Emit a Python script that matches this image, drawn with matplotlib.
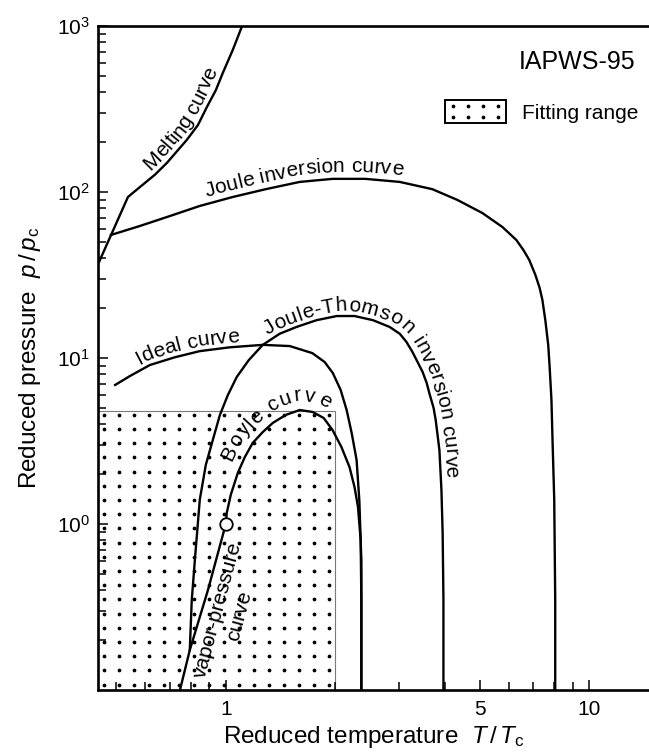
import numpy as np
import matplotlib; matplotlib.use("Agg")
import matplotlib.pyplot as plt
from matplotlib.patches import Rectangle, Patch
from matplotlib.lines import Line2D
from matplotlib.legend_handler import HandlerBase
from matplotlib.font_manager import FontProperties
from matplotlib.ticker import FixedLocator, LogLocator, NullFormatter

plt.rcParams['font.family'] = ['Liberation Sans', 'DejaVu Sans']
plt.rcParams['mathtext.fontset'] = 'custom'
plt.rcParams['mathtext.rm'] = 'Liberation Sans'
plt.rcParams['mathtext.it'] = 'Liberation Sans:italic'

# reduced temperature T/Tc, reduced pressure p/pc
MELT_T = [0.448, 0.538, 0.580, 0.638, 0.689, 0.781, 0.838, 0.887, 0.939, 0.981, 1.045, 1.106, 1.11]
MELT_P = [37.9, 93.3, 107, 127, 150, 206, 253, 325, 411, 521, 717, 986, 1000]

JI_T = [0.483, 0.580, 0.689, 0.848, 1.045, 1.288, 1.597, 1.967, 2.42, 3.01, 3.70, 4.34, 5.08, 5.77,
        6.30, 6.59, 6.84, 7.11, 7.30, 7.43, 7.57, 7.71, 7.78, 7.87, 7.93, 8.01, 8.06, 8.06]
JI_P = [55.1, 62.4, 70.7, 82.4, 93.3, 104, 115, 120, 120, 115, 104, 89.5, 74.7, 61.5,
        51.4, 44.7, 38.9, 31.6, 26.5, 22.4, 16.9, 12.0, 8.83, 5.58, 3.0, 1.40, 0.348, 0.1]

IDEAL_T = [0.496, 0.545, 0.618, 0.724, 0.848, 1.026, 1.264, 1.50, 1.73, 1.87, 1.97, 2.07, 2.15,
           2.22, 2.29, 2.33, 2.36, 2.36]
IDEAL_P = [6.88, 7.79, 9.07, 10.1, 11.0, 11.6, 12.0, 11.8, 10.7, 9.46, 8.12, 6.42, 4.86,
           3.53, 2.43, 1.39, 0.607, 0.1]

JT_T = [0.796, 0.806, 0.822, 0.848, 0.881, 0.921, 0.963, 1.013, 1.072, 1.157, 1.264, 1.407, 1.567,
        1.778, 2.02, 2.26, 2.54, 2.82, 3.01, 3.14, 3.26, 3.37, 3.48, 3.57, 3.63, 3.73, 3.78, 3.87,
        3.92, 3.95, 3.97, 3.97]
JT_P = [0.174, 0.348, 0.607, 1.40, 2.27, 3.21, 4.53, 5.98, 7.69, 9.72, 12.0, 14.0, 15.4,
        16.9, 17.9, 17.9, 16.9, 15.4, 14.0, 12.5, 10.9, 9.46, 8.23, 7.07, 6.15, 5.0, 4.23, 2.79,
        1.60, 0.883, 0.348, 0.1]

BOYLE_T = [1.0, 1.006, 1.032, 1.079, 1.128, 1.186, 1.264, 1.346, 1.462, 1.597, 1.734, 1.859,
           1.967, 2.08, 2.19, 2.26, 2.31, 2.35, 2.36, 2.36]
BOYLE_P = [1.0, 1.165, 1.50, 2.03, 2.53, 3.08, 3.58, 4.06, 4.54, 4.86, 4.73, 4.35,
           3.68, 2.91, 2.20, 1.67, 1.27, 0.801, 0.348, 0.1]

VAP_T = [0.748, 0.796, 0.893, 1.0]
VAP_P = [0.1, 0.174, 0.40, 1.0]
CRIT = (1.0, 1.0)

FIT_T = [0.445, 2.0]
FIT_P = [0.1, 4.8]

XMAJ = [1, 5, 10]
YMAJ = [1, 10, 100, 1000]

FS = 15


class DotBox(HandlerBase):
    def create_artists(self, legend, orig, xd, yd, w, h, fs, trans):
        box = Rectangle((-xd, -yd), w, h, fc='white', ec='k', lw=1.4, transform=trans)
        gx, gy = np.meshgrid(-xd + w * (np.arange(4) + 0.5) / 4, -yd + h * (np.arange(2) + 0.5) / 2)
        dots = Line2D(gx.ravel(), gy.ravel(), ls='none', marker='o', ms=1.7, color='k', transform=trans)
        return [box, dots]


def label_along(ax, s, xs, ys, s0, off, fs=FS, win=10):
    """place text char by char along a curve (display coords)"""
    r = ax.figure.canvas.get_renderer()
    fp = FontProperties(family='Liberation Sans', size=fs)
    P = ax.transData.transform(np.column_stack([xs, ys]))
    L = np.r_[0, np.cumsum(np.hypot(*np.diff(P, axis=0).T))]
    base = r.get_text_width_height_descent('|', fp, ismath=False)[0]
    adv = lambda t: r.get_text_width_height_descent(t + '|', fp, ismath=False)[0] - base
    for i, ch in enumerate(s):
        if ch == ' ':
            continue
        c = s0 + (adv(s[:i]) + adv(s[:i + 1])) / 2
        x, y = np.interp(c, L, P[:, 0]), np.interp(c, L, P[:, 1])
        xa, ya = np.interp(c - win, L, P[:, 0]), np.interp(c - win, L, P[:, 1])
        xb, yb = np.interp(c + win, L, P[:, 0]), np.interp(c + win, L, P[:, 1])
        a = np.arctan2(yb - ya, xb - xa)
        ax.text(x - off * np.sin(a), y + off * np.cos(a), ch, transform=None, fontsize=fs,
                rotation=np.degrees(a), rotation_mode='anchor', ha='center', va='baseline')


fig = plt.figure(figsize=(6.49, 7.55), dpi=100)
ax = fig.add_axes([98 / 649, 1 - 690 / 755, 1 - 98 / 649, 664 / 755])
ax.set_xscale('log'); ax.set_yscale('log')
ax.set_xlim(0.445, 14.6); ax.set_ylim(0.1, 1000)

# fitting range: thin box + dot texture
ax.add_patch(Rectangle((FIT_T[0], FIT_P[0]), FIT_T[1] - FIT_T[0], FIT_P[1] - FIT_P[0],
                       fill=False, ec='#7a7a7a', lw=0.8, zorder=1))
lx, ly = np.log10(FIT_T), np.log10(FIT_P)
gx, gy = np.meshgrid(10 ** np.arange(lx[0] + 0.016, lx[1], 0.0413), 10 ** np.arange(ly[1] - 0.024, ly[0], -0.0855))
ax.plot(gx.ravel(), gy.ravel(), ls='none', marker='o', ms=1.7, color='k', zorder=1)

kw = dict(color='k', lw=1.7, zorder=3, solid_joinstyle='round')
for xs, ys in [(MELT_T, MELT_P), (JI_T, JI_P), (IDEAL_T, IDEAL_P), (JT_T, JT_P), (BOYLE_T, BOYLE_P), (VAP_T, VAP_P)]:
    ax.plot(xs, ys, **kw)
ax.plot(*CRIT, marker='o', ms=9, mfc='white', mec='k', mew=1.3, zorder=4)

# axes styling
for k in ('left', 'bottom', 'top'):
    ax.spines[k].set_linewidth(1.9)
ax.spines['right'].set_visible(False)
ax.xaxis.set_major_locator(FixedLocator(XMAJ))
ax.xaxis.set_minor_locator(LogLocator(base=10, subs=np.arange(2, 10)))
ax.xaxis.set_minor_formatter(NullFormatter())
ax.set_xticklabels([str(v) for v in XMAJ])
ax.yaxis.set_major_locator(FixedLocator(YMAJ))
ax.yaxis.set_minor_locator(LogLocator(base=10, subs=np.arange(2, 10)))
ax.yaxis.set_minor_formatter(NullFormatter())
ax.set_yticklabels([r'$10^{%d}$' % round(np.log10(v)) for v in YMAJ])
ax.tick_params(which='both', direction='in', top=False, right=False, width=1.1, labelsize=FS)
ax.tick_params(which='major', length=7)
ax.tick_params(which='minor', length=5.5)
ax.tick_params(axis='x', pad=7)
ax.tick_params(axis='y', pad=6)
ax.set_xlabel(r'Reduced temperature  $T\,/\,T_\mathrm{c}$', fontsize=17.5, labelpad=4)
ax.set_ylabel(r'Reduced pressure  $p\,/\,p_\mathrm{c}$', fontsize=17.5, labelpad=10)

ax.text(0.975, 0.946, 'IAPWS-95', transform=ax.transAxes, ha='right', va='center', fontsize=18)
ax.legend(handles=[Patch(label='Fitting range')], handler_map={Patch: DotBox()}, loc='center left',
          bbox_to_anchor=(0.630, 0.871), frameon=False, fontsize=FS, handlelength=2.9,
          handleheight=1.3, handletextpad=0.8, borderpad=0, borderaxespad=0)

# curve labels
label_along(ax, 'Melting curve', MELT_T, MELT_P, 106, 6)
label_along(ax, 'Joule inversion curve', JI_T, JI_P, 102, 7)
label_along(ax, 'Ideal curve', IDEAL_T, IDEAL_P, 30, 5)
label_along(ax, 'Joule-Thomson inversion curve', JT_T, JT_P, 330, 5)
label_along(ax, 'Boyle curve', BOYLE_T, BOYLE_P, 60, 10, win=16)
ax.text(0.951, 0.303, 'vapor-pressure', fontsize=FS, rotation=75, ha='center', va='center')
ax.text(1.092, 0.279, 'curve', fontsize=FS, rotation=75, ha='center', va='center')

fig.savefig('out.png', dpi=100)
